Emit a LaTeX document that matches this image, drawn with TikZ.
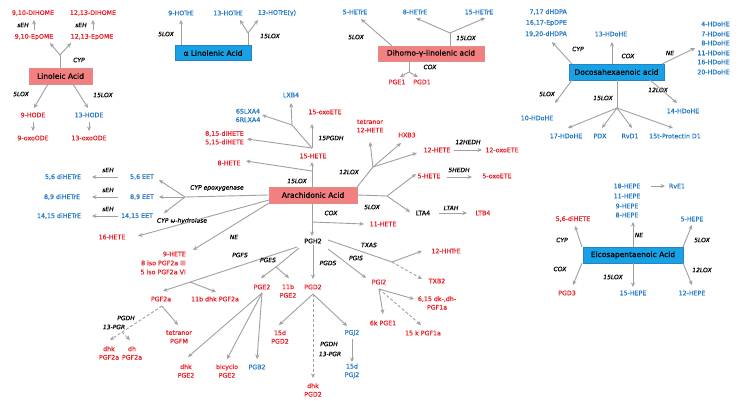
\documentclass[tikz,border=0pt]{standalone}
\usepackage{fontspec}
\setmainfont{DejaVu Sans}
\newfontfamily\lblfont{DejaVu Sans}[FakeBold=0.6]
\usetikzlibrary{arrows.meta}
\definecolor{tred}{RGB}{232,30,38}
\definecolor{tblue}{RGB}{32,120,198}
\definecolor{lgray}{RGB}{160,160,160}
\definecolor{salfill}{RGB}{242,128,128}
\definecolor{saldraw}{RGB}{225,140,140}
\definecolor{skyfill}{RGB}{24,162,230}
\definecolor{skydraw}{RGB}{40,130,195}
\tikzset{
  lb/.style={inner sep=1pt, font=\lblfont\fontsize{6.3}{8.5}\selectfont, align=center},
  rt/.style={lb, text=tred},
  bt/.style={lb, text=tblue},
  kt/.style={lb, text=black},
  en/.style={inner sep=1pt, font=\lblfont\fontsize{6}{7}\selectfont\itshape, text=black},
  ln/.style={draw=lgray, line width=0.9pt},
  ar/.style={ln, -{Stealth[length=4.5pt,width=4pt]}},
  dar/.style={ar, dash pattern=on 3pt off 2pt},
  rbox/.style={draw=saldraw, fill=salfill, line width=0.6pt, inner sep=0pt, font=\lblfont\fontsize{7.5}{9}\selectfont},
  bbox/.style={draw=skydraw, fill=skyfill, line width=0.6pt, inner sep=0pt, font=\lblfont\fontsize{7.5}{9}\selectfont},
}
\begin{document}
\begin{tikzpicture}[x=1pt,y=-1pt]
\fill[white] (0,0) rectangle (742,408);
\useasboundingbox (0,0) rectangle (742,408);

% ===== Linoleic acid =====
\node[rbox,minimum width=63pt,minimum height=16pt] (la) at (60.5,76) {Linoleic Acid};
\node[rt] (dih910) at (33,13) {9,10-DIHOME};
\node[rt] (dih1213) at (93,13) {12,13-DIHOME};
\node[en] (seh1) at (23,25) {sEH};
\node[en] (seh2) at (81,25) {sEH};
\node[rt] (ep910) at (34,37) {9,10-EpOME};
\node[rt] (ep1213) at (92,37) {12,13-EpOME};
\node[en] (cyp1) at (79,60) {CYP};
\node[en] (lox5a) at (21,94) {5LOX};
\node[en] (lox15a) at (103,95) {15LOX};
\node[rt] (hode9) at (33,115) {9-HODE};
\node[bt] (hode13) at (89,115) {13-HODE};
\node[rt] (oxo9) at (33,138) {9-oxoODE};
\node[rt] (oxo13) at (89,138) {13-oxoODE};
\coordinate (c1) at (34,30); \coordinate (c2) at (34,20);
\coordinate (c3) at (93,30); \coordinate (c4) at (93,20);
\coordinate (laj) at (60,55);
\coordinate (c5) at (50,43); \coordinate (c6) at (71,43);
\coordinate (c7) at (48,84); \coordinate (c8) at (34,108);
\coordinate (c9) at (73,84); \coordinate (c10) at (88,108);
\coordinate (c11) at (33,122); \coordinate (c12) at (33,131);
\coordinate (c13) at (89,122); \coordinate (c14) at (89,131);
\draw[ar] (c1)--(c2); \draw[ar] (c3)--(c4);
\draw[ln] (la.north -| laj) -- (laj);
\draw[ar] (laj)--(c5); \draw[ar] (laj)--(c6);
\draw[ar] (c7)--(c8); \draw[ar] (c9)--(c10);
\draw[ar] (c11)--(c12); \draw[ar] (c13)--(c14);

% ===== alpha linolenic =====
\node[bbox,minimum width=76pt,minimum height=15pt] (ala) at (213,53) {α Linolenic Acid};
\node[bt] (hot9) at (181,13) {9-HOTrE};
\node[bt] (hot13) at (228,13) {13-HOTrE};
\node[bt] (hot13g) at (277,13) {13-HOTrE(γ)};
\node[en] (lox5b) at (166,34) {5LOX};
\node[en] (lox15b) at (270,36) {15LOX};
\coordinate (d2) at (181,20);
\coordinate (alaj) at (248,33);
\coordinate (d3) at (240,20); \coordinate (d4) at (258,20);
\draw[ar] (ala.north -| d2) -- (d2);
\draw[ln] (ala.north -| alaj) -- (alaj);
\draw[ar] (alaj)--(d3); \draw[ar] (alaj)--(d4);

% ===== Dihomo-gamma-linolenic =====
\node[rbox,minimum width=106pt,minimum height=15pt] (dgla) at (431,53.5) {Dihomo-γ-linolenic acid};
\node[bt] (het5) at (355,12) {5-HETrE};
\node[bt] (het8) at (415,12) {8-HETrE};
\node[bt] (het15) at (479,12) {15-HETrE};
\node[en] (lox5c) at (356,37) {5LOX};
\node[en] (lox15c) at (466,38) {15LOX};
\node[en] (cox1) at (430,67) {COX};
\node[rt] (pge1) at (397,82) {PGE1};
\node[rt] (pgd1) at (422,82) {PGD1};
\coordinate (e1) at (392,46); \coordinate (e2) at (361,19);
\coordinate (dglaj) at (450,33);
\coordinate (e3) at (416,18); \coordinate (e4) at (485,18);
\coordinate (dglaj2) at (409,72);
\coordinate (e5) at (400,77); \coordinate (e6) at (418,77);
\draw[ar] (e1)--(e2);
\draw[ln] (dgla.north -| dglaj) -- (dglaj);
\draw[ar] (dglaj)--(e3); \draw[ar] (dglaj)--(e4);
\draw[ln] (dgla.south -| dglaj2) -- (dglaj2);
\draw[ar] (dglaj2)--(e5); \draw[ar] (dglaj2)--(e6);

% ===== DHA =====
\node[bbox,minimum width=95pt,minimum height=16pt] (dha) at (616.5,72) {Docosahexaenoic acid};
\node[bt,anchor=east] (dhdpa717) at (568,12) {7,17 dHDPA};
\node[bt,anchor=east] (epdpe) at (568,23) {16,17-EpDPE};
\node[bt,anchor=east] (dhdpa1920) at (568,34) {19,20-dHDPA};
\node[en] (cyp2) at (578,49) {CYP};
\node[bt] (hd13) at (611,34) {13-HDoHE};
\node[en] (cox2) at (628,56) {COX};
\node[en] (ne1) at (670,53) {NE};
\node[bt,anchor=east] (hd4) at (731,24) {4-HDoHE};
\node[bt,anchor=east] (hd7) at (731,34) {7-HDoHE};
\node[bt,anchor=east] (hd8) at (731,43) {8-HDoHE};
\node[bt,anchor=east] (hd11) at (731,53) {11-HDoHE};
\node[bt,anchor=east] (hd16) at (731,62) {16-HDoHE};
\node[bt,anchor=east] (hd20) at (731,72) {20-HDoHE};
\node[en] (lox12a) at (658,90) {12LOX};
\node[bt] (hd14) at (683,111) {14-HDoHE};
\node[en] (lox5d) at (547,94) {5LOX};
\node[bt] (hd10) at (537,118) {10-HDoHE};
\node[en] (lox15d) at (603,98) {15LOX};
\node[bt] (hd17) at (566,136) {17-HDoHE};
\node[bt] (pdx) at (600,136) {PDX};
\node[bt] (rvd1) at (630,136) {RvD1};
\node[bt] (prot) at (675,136) {15t-Protectin D1};
\coordinate (f1) at (572,64); \coordinate (f2) at (552,42);
\coordinate (f4) at (612,42);
\coordinate (f5) at (662,64); \coordinate (f6) at (695,48);
\coordinate (f7) at (650,80); \coordinate (f8) at (677,103);
\coordinate (f9) at (572,80); \coordinate (f10) at (555,103);
\coordinate (dhaj) at (617,108);
\coordinate (f11) at (568,128); \coordinate (f12) at (602,128);
\coordinate (f13) at (632,128); \coordinate (f14) at (673,128);
\draw[ar] (f1)--(f2);
\draw[ar] (dha.north -| f4) -- (f4);
\draw[ar] (f5)--(f6);
\draw[ar] (f7)--(f8);
\draw[ar] (f9)--(f10);
\draw[ln] (dha.south -| dhaj) -- (dhaj);
\draw[ar] (dhaj)--(f11); \draw[ar] (dhaj)--(f12);
\draw[ar] (dhaj)--(f13); \draw[ar] (dhaj)--(f14);

% ===== Arachidonic acid =====
\node[rbox,minimum width=88pt,minimum height=16pt] (aa) at (313,195) {Arachidonic Acid};
% 15LOX
\node[rt] (h15) at (313,156) {15-HETE};
\node[en] (lox15e) at (297,181) {15LOX};
\node[rt] (h8) at (229,163) {8-HETE};
\node[rt] (oxo15) at (325,112) {15-oxoETE};
\node[en] (pgdh15) at (331,138) {15PGDH};
\node[rt,anchor=east,align=right] (dih) at (245,138) {8,15-diHETE\\5,15-diHETE};
\node[bt] (lxb4) at (291,95) {LXB4};
\node[bt] (lxa4) at (248,115.5) {6SLXA4\\6RLXA4};
\coordinate (g1) at (312,162);
\coordinate (g2) at (312,171); \coordinate (g3) at (246,161);
\coordinate (h15j) at (312,148);
\coordinate (g4) at (312,124); \coordinate (g5) at (247,139);
\coordinate (lxj) at (292,125);
\coordinate (g6) at (291,103); \coordinate (g7) at (262,115);
\draw[ar] (aa.north -| g1) -- (g1);
\draw[ar] (g2)--(g3);
\draw[ar] (h15j)--(g4); \draw[ar] (h15j)--(g5);
\draw[ln] (h15j)--(lxj);
\draw[ar] (lxj)--(g6); \draw[ar] (lxj)--(g7);
% 12LOX
\node[en] (lox12b) at (349,172) {12LOX};
\node[rt] (tet12) at (370,126) {tetranor\\12-HETE};
\node[rt] (hxb3) at (407,135) {HXB3};
\node[rt] (h12) at (437,150) {12-HETE};
\node[en] (hedh12) at (468,142) {12HEDH};
\node[rt] (oxo12) at (502,150) {12-oxoETE};
\coordinate (aaj12) at (373,167);
\coordinate (h2) at (370,142); \coordinate (h3) at (401,143); \coordinate (h4) at (417,153);
\coordinate (h5) at (454,150); \coordinate (h6) at (482,150);
\draw[ln] (aa.north east) -- (aaj12);
\draw[ar] (aaj12)--(h2); \draw[ar] (aaj12)--(h3); \draw[ar] (aaj12)--(h4);
\draw[ar] (h5)--(h6);
% 5LOX
\node[en] (lox5e) at (372,207) {5LOX};
\node[rt] (h5n) at (429,176) {5-HETE};
\node[en] (hedh5) at (459,170) {5HEDH};
\node[rt] (oxo5) at (497,176) {5-oxoETE};
\node[kt] (lta4) at (423,213) {LTA4};
\node[en] (ltah) at (451,208) {LTAH};
\node[rt] (ltb4) at (483,213) {LTB4};
\coordinate (aaj5) at (387,196);
\coordinate (i1) at (416,174); \coordinate (i2) at (410,212);
\coordinate (i3) at (447,177); \coordinate (i4) at (472,177);
\coordinate (i5) at (439,213); \coordinate (i6) at (467,213);
\draw[ln] (aa.east) -- (aaj5);
\draw[ar] (aaj5)--(i1); \draw[ar] (aaj5)--(i2);
\draw[ar] (i3)--(i4); \draw[ar] (i5)--(i6);
% COX
\node[en] (cox3) at (331,213) {COX};
\node[kt] (pgh2) at (313,241) {PGH2};
\node[rt] (h11) at (383,224) {11-HETE};
\coordinate (j1) at (312,236); \coordinate (j2) at (312,222); \coordinate (j3) at (364,224);
\draw[ar] (aa.south -| j1) -- (j1);
\draw[ar] (j2)--(j3);
% CYP epoxygenase
\node[en] (cypepo) at (217,188) {CYP epoxygenase};
\node[bt] (eet56) at (142,177) {5,6 EET};
\node[bt] (eet89) at (142,197) {8,9 EET};
\node[bt] (eet1415) at (137,216) {14,15 EET};
\node[en] (seh3) at (108,170) {sEH};
\node[en] (seh4) at (108,190) {sEH};
\node[en] (seh5) at (108,209) {sEH};
\node[bt] (dh56) at (63,177) {5,6 diHETrE};
\node[bt] (dh89) at (62,197) {8,9 diHETrE};
\node[bt] (dh1415) at (59,216) {14,15 diHETrE};
\coordinate (eetj) at (185,197);
\coordinate (k1) at (159,180); \coordinate (k2) at (159,197); \coordinate (k3) at (164,213);
\coordinate (k4) at (118,177); \coordinate (k5) at (92,177);
\coordinate (k6) at (118,197); \coordinate (k7) at (92,197);
\coordinate (k8) at (118,216); \coordinate (k9) at (92,216);
\draw[ln] (aa.west) -- (eetj);
\draw[ar] (eetj)--(k1); \draw[ar] (eetj)--(k2); \draw[ar] (eetj)--(k3);
\draw[ar] (k4)--(k5); \draw[ar] (k6)--(k7); \draw[ar] (k8)--(k9);
% CYP omega
\node[en] (cypw) at (182,221) {CYP ω-hydrolase};
\node[rt] (h16) at (112,237) {16-HETE};
\coordinate (l1) at (269,200); \coordinate (l2) at (138,236);
\draw[ar] (l1)--(l2);
% NE
\node[en] (ne2) at (234,237) {NE};
\node[rt,anchor=east,align=right,font=\lblfont\fontsize{6.3}{9}\selectfont] (h9) at (187,263) {9-HETE\\8 iso PGF2a III\\5 iso PGF2a VI};
\coordinate (m1) at (193,250);
\draw[ar] (aa.south west) -- (m1);

% ===== PGH2 branches =====
% PGFS
\node[en] (pgfs) at (240,255) {PGFS};
\node[rt] (pgf2a) at (161,299) {PGF2a};
\node[rt] (dhkpgf) at (215,299) {11b dhk PGF2a};
\coordinate (n0) at (297,247); \coordinate (n1) at (163,291);
\coordinate (n2) at (190,282); \coordinate (n3) at (216,292);
\draw[ar] (n0)--(n1); \draw[ar] (n2)--(n3);
\node[en] (pgdh1) at (126,318) {PGDH};
\node[en] (pgr1) at (114,327) {13-PGR};
\node[rt] (dhkpgf2a) at (109,353) {dhk\\PGF2a};
\node[rt] (dhpgf2a) at (132,353) {dh\\PGF2a};
\node[rt] (tetpgfm) at (179,337) {tetranor\\PGFM};
\coordinate (o1) at (162,306); \coordinate (o2) at (110,340);
\coordinate (o3) at (122,332); \coordinate (o4) at (130,340);
\coordinate (o5) at (178,325);
\draw[dar] (o1)--(o2); \draw[dar] (o3)--(o4); \draw[ar] (o1)--(o5);
% PGES
\node[en] (pges) at (268,260) {PGES};
\node[rt] (pge2) at (262,287) {PGE2};
\node[rt] (pge211b) at (288,291) {11b\\PGE2};
\coordinate (p0) at (299,248); \coordinate (pj) at (276,267);
\coordinate (p1) at (261,278); \coordinate (p2) at (289,278);
\draw[ln] (p0)--(pj); \draw[ar] (pj)--(p1); \draw[ar] (pj)--(p2);
\node[rt] (dhkpge2) at (186,371) {dhk\\PGE2};
\node[rt] (bicy) at (227,371) {bicyclo\\PGE2};
\node[bt] (pgb2) at (257,367) {PGB2};
\coordinate (q0) at (262,293);
\coordinate (q1) at (188,357); \coordinate (q2) at (227,359); \coordinate (q3) at (257,359);
\draw[ar] (q0)--(q1); \draw[ar] (q0)--(q2); \draw[ar] (q0)--(q3);
% PGDS
\node[en] (pgds) at (328,263) {PGDS};
\node[rt] (pgd2) at (313,287) {PGD2};
\coordinate (r1) at (313,279);
\draw[ar] (pgh2.south -| r1) -- (r1);
\node[rt] (pgd215d) at (280,337) {15d\\PGD2};
\node[bt] (pgj2) at (352,333) {PGJ2};
\node[en] (pgdh2) at (329,344) {PGDH};
\node[en] (pgr2) at (330,354) {13-PGR};
\node[rt] (dhkpgd2) at (313,390) {dhk\\PGD2};
\node[bt] (pgj215d) at (352,371) {15d\\PGJ2};
\coordinate (s0) at (313,294);
\coordinate (s1) at (279,325); \coordinate (s2) at (347,326); \coordinate (s3) at (313,378);
\coordinate (s4) at (352,339); \coordinate (s5) at (352,362);
\draw[ar] (s0)--(s1); \draw[ar] (s0)--(s2); \draw[dar] (s0)--(s3);
\draw[ar] (s4)--(s5);
% PGIS
\node[en] (pgis) at (356,258) {PGIS};
\node[rt] (pgi2) at (379,282) {PGI2};
\coordinate (t0) at (328,249); \coordinate (t1) at (366,278);
\draw[ar] (t0)--(t1);
\node[rt] (pgf1a615) at (437,303) {6,15 dk-,dh-\\PGF1a};
\node[rt] (pge16k) at (383,323) {6k PGE1};
\node[rt] (pgf1a15k) at (423,333) {15 k PGF1a};
\coordinate (u0) at (379,289); \coordinate (u1) at (414,299);
\coordinate (u2) at (383,314); \coordinate (u3) at (421,325);
\draw[ar] (u0)--(u1); \draw[ar] (u0)--(u2); \draw[dar] (u0)--(u3);
% TXAS
\node[en] (txas) at (369,245) {TXAS};
\node[rt] (hht12) at (446,251) {12-HHTrE};
\node[rt] (txb2) at (437,281) {TXB2};
\coordinate (v0) at (328,240); \coordinate (vj) at (392,262);
\coordinate (v1) at (422,251); \coordinate (v2) at (422,279);
\draw[ln] (v0)--(vj); \draw[ar] (vj)--(v1); \draw[dar] (vj)--(v2);

% ===== EPA =====
\node[bbox,minimum width=100pt,minimum height=16pt] (epa) at (633,255) {Eicosapentaenoic Acid};
\node[bt] (hp18) at (627,186) {18-HEPE};
\node[bt] (rve1) at (677,186) {RvE1};
\node[bt] (hp11) at (627,196) {11-HEPE};
\node[bt] (hp9) at (627,206) {9-HEPE};
\node[bt] (hp8) at (627,215) {8-HEPE};
\node[en] (ne3) at (639,235) {NE};
\node[rt] (dihete56) at (573,219) {5,6-diHETE};
\node[en] (cyp3) at (562,240) {CYP};
\node[en] (cox4) at (560,269) {COX};
\node[rt] (pgd3) at (567,293) {PGD3};
\node[en] (lox15f) at (613,277) {15LOX};
\node[bt] (hp15) at (633,293) {15-HEPE};
\node[en] (lox5f) at (702,240) {5LOX};
\node[bt] (hp5) at (692,219) {5-HEPE};
\node[en] (lox12c) at (702,270) {12LOX};
\node[bt] (hp12) at (692,293) {12-HEPE};
\coordinate (w0) at (651,186); \coordinate (w1) at (665,186);
\coordinate (w2) at (633,222);
\coordinate (w3) at (582,247); \coordinate (w4) at (575,226);
\coordinate (w5) at (582,263); \coordinate (w6) at (573,285);
\coordinate (w7) at (633,287);
\coordinate (w8) at (683,247); \coordinate (w9) at (692,225);
\coordinate (w10) at (683,263); \coordinate (w11) at (692,285);
\draw[ar] (w0)--(w1);
\draw[ar] (epa.north -| w2) -- (w2);
\draw[ar] (w3)--(w4); \draw[ar] (w5)--(w6);
\draw[ar] (epa.south -| w7) -- (w7);
\draw[ar] (w8)--(w9); \draw[ar] (w10)--(w11);
\end{tikzpicture}
\end{document}
